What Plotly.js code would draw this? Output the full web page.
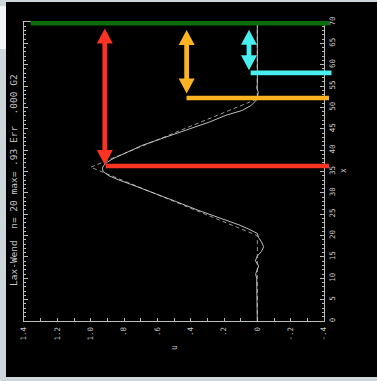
<!DOCTYPE html>
<html>
<head>
<meta charset="utf-8">
<script src="https://cdn.plot.ly/plotly-3.0.1.min.js"></script>
<style>
  html, body { margin:0; padding:0; width:377px; height:381px; overflow:hidden; background:#cdd6db; }
  #plot { position:absolute; left:6px; top:2px; width:371px; height:375px; background:#000; }
  #dot { position:absolute; left:-18px; top:6px; width:43px; height:43px; border-radius:50%; background:#f2f5f7; }
</style>
</head>
<body>
<div id="dot"></div>
<div id="plot"></div>
<script>
// ---- data ----
// numerical (Lax-Wendroff) solution: position x, value u
const xNum = [0, 9, 10, 11, 12, 12.9, 14.1, 15.2, 16.3, 17.4, 18.5, 19.5, 20.5, 21.5, 22.5, 24, 26, 28, 30, 32, 33, 34, 35, 35.8, 36.5, 37.2, 38, 39.5, 41.2, 42.5, 43.9, 45.3, 46.6, 48.2, 49.3, 50.5, 51.7, 52.5, 53.5, 54.5, 55.5, 70];
const uNum = [0, 0, 0.004, 0.01, 0.0, -0.008, 0.012, 0.0, -0.025, -0.038, -0.025, -0.008, 0.0, 0.05, 0.11, 0.22, 0.36, 0.49, 0.62, 0.76, 0.83, 0.89, 0.925, 0.93, 0.92, 0.9, 0.866, 0.78, 0.686, 0.59, 0.486, 0.385, 0.286, 0.186, 0.09, 0.036, 0.006, 0.0, -0.006, 0.003, 0, 0];
// exact solution
const xExact = [0, 20, 36, 52, 70];
const uExact = [0, 0, 1, 0, 0];

// tick labels
const uTickVals = [1.4, 1.2, 1.0, 0.8, 0.6, 0.4, 0.2, 0, -0.2, -0.4];
const uTickText = ['1.4', '1.2', '1.0', '.8', '.6', '.4', '.2', '0', '-.2', '-.4'];
const uMinorVals = [1.3, 1.1, 0.9, 0.7, 0.5, 0.3, 0.1, -0.1, -0.3];

const titleText = 'Lax-Wend  n= 20 max= .93 Err  .000 G2';

// marker levels (horizontal bands in the picture)
const levelX      = [69.7, 36.3, 52.2, 58.1];
const levelUFrom  = [1.36, 0.91, 0.425, 0.04];
const levelUTo    = [-0.43, -0.43, -0.43, -0.445];
const levelColor  = ['#0b6e0b', '#fa3322', '#fdb322', '#48efee'];
// double arrows
const arrowU      = [0.915, 0.424, 0.05];
const arrowTop    = [68.5, 68.1, 68.2];
const arrowBottom = [36.5, 53.25, 58.7];
const arrowColor  = ['#fa3322', '#fdb322', '#48efee'];

// ---- layout helpers ----
const uRange = [1.4, -0.4], xRange = [0, 70];
const M = {l:18, r:53, t:20, b:56};
const W = 371, H = 375;
const PW = W - M.l - M.r, PH = H - M.t - M.b;
const pu = u => (uRange[0] - u) / (uRange[0] - uRange[1]);
const px = x => (x - xRange[0]) / (xRange[1] - xRange[0]);

const shapes = [];
for (let i = 0; i < levelX.length; i++) {
  shapes.push({type:'line', xref:'paper', yref:'paper',
    x0: pu(levelUFrom[i]), x1: pu(levelUTo[i]), y0: px(levelX[i]), y1: px(levelX[i]),
    line:{color: levelColor[i], width: 4.6}, layer:'above'});
}
const hw = 8 / PW, sw = 2.4 / PW, hl = 15 / PH;
for (let i = 0; i < arrowU.length; i++) {
  const c = pu(arrowU[i]), t = px(arrowTop[i]), b = px(arrowBottom[i]);
  const p = [
    [c, t], [c + hw, t - hl], [c + sw, t - hl], [c + sw, b + hl], [c + hw, b + hl],
    [c, b], [c - hw, b + hl], [c - sw, b + hl], [c - sw, t - hl], [c - hw, t - hl]
  ];
  const d = 'M' + p.map(q => q[0].toFixed(5) + ',' + q[1].toFixed(5)).join(' L') + ' Z';
  shapes.push({type:'path', xref:'paper', yref:'paper', path:d,
    fillcolor: arrowColor[i], line:{width:0}, layer:'above'});
}

const FONT = '"DejaVu Sans Mono", "Liberation Mono", monospace';
const TXT = '#c8c8c8';
const AX = '#bcbcbc';

const traces = [
  {x: uExact, y: xExact, type:'scatter', mode:'lines',
   line:{color:'#bdbdbd', width:0.8, dash:'4px,3px'}, hoverinfo:'skip'},
  {x: uNum, y: xNum, type:'scatter', mode:'lines',
   line:{color:'#d2d2d2', width:0.9}, hoverinfo:'skip'}
];

const layout = {
  width: W, height: H,
  margin: M,
  paper_bgcolor:'#000', plot_bgcolor:'#000',
  showlegend:false,
  font:{family: FONT, color: TXT, size: 7},
  xaxis: {
    range: uRange, autorange:false,
    tickmode:'array', tickvals: uTickVals, ticktext: uTickText,
    tickangle: -90, ticks:'inside', ticklen:3, tickcolor: AX, tickwidth:1,
    minor:{tickmode:'array', tickvals: uMinorVals, ticks:'inside', ticklen:3, tickcolor: AX},
    showline:true, linecolor: AX, linewidth:1, mirror:'allticks',
    showgrid:false, zeroline:false,
    tickfont:{family: FONT, color: TXT, size: 7.5},
    ticklabelstandoff: 2
  },
  yaxis: {
    range: xRange, autorange:false, side:'right',
    tickmode:'linear', tick0:0, dtick:5,
    tickangle: -90, ticks:'inside', ticklen:4, tickcolor: AX, tickwidth:1,
    minor:{dtick:1, tick0:0, ticks:'inside', ticklen:2, tickcolor: AX},
    showline:true, linecolor: AX, linewidth:1, mirror:'allticks',
    showgrid:false, zeroline:false,
    tickfont:{family: FONT, color: TXT, size: 7.5},
    ticklabelstandoff: 1
  },
  shapes: shapes,
  annotations: [
    {text: titleText.replace(/ /g, '\u00a0'), xref:'paper', yref:'paper',
     x: (7 - M.l) / PW, y: (M.t + PH - 178) / PH, xanchor:'center', yanchor:'middle',
     textangle:-90, showarrow:false, font:{family: FONT, color: TXT, size: 9.5}},
    {text:'u', xref:'paper', yref:'paper', x: (168 - M.l) / PW, y: (M.t + PH - 346) / PH,
     xanchor:'center', yanchor:'middle', textangle:-90, showarrow:false,
     font:{family: FONT, color: TXT, size: 8}},
    {text:'x', xref:'paper', yref:'paper', x: (337 - M.l) / PW, y: (M.t + PH - 169) / PH,
     xanchor:'center', yanchor:'middle', textangle:-90, showarrow:false,
     font:{family: FONT, color: TXT, size: 8}}
  ]
};

Plotly.newPlot('plot', traces, layout, {staticPlot:true, displayModeBar:false});
</script>
</body>
</html>
